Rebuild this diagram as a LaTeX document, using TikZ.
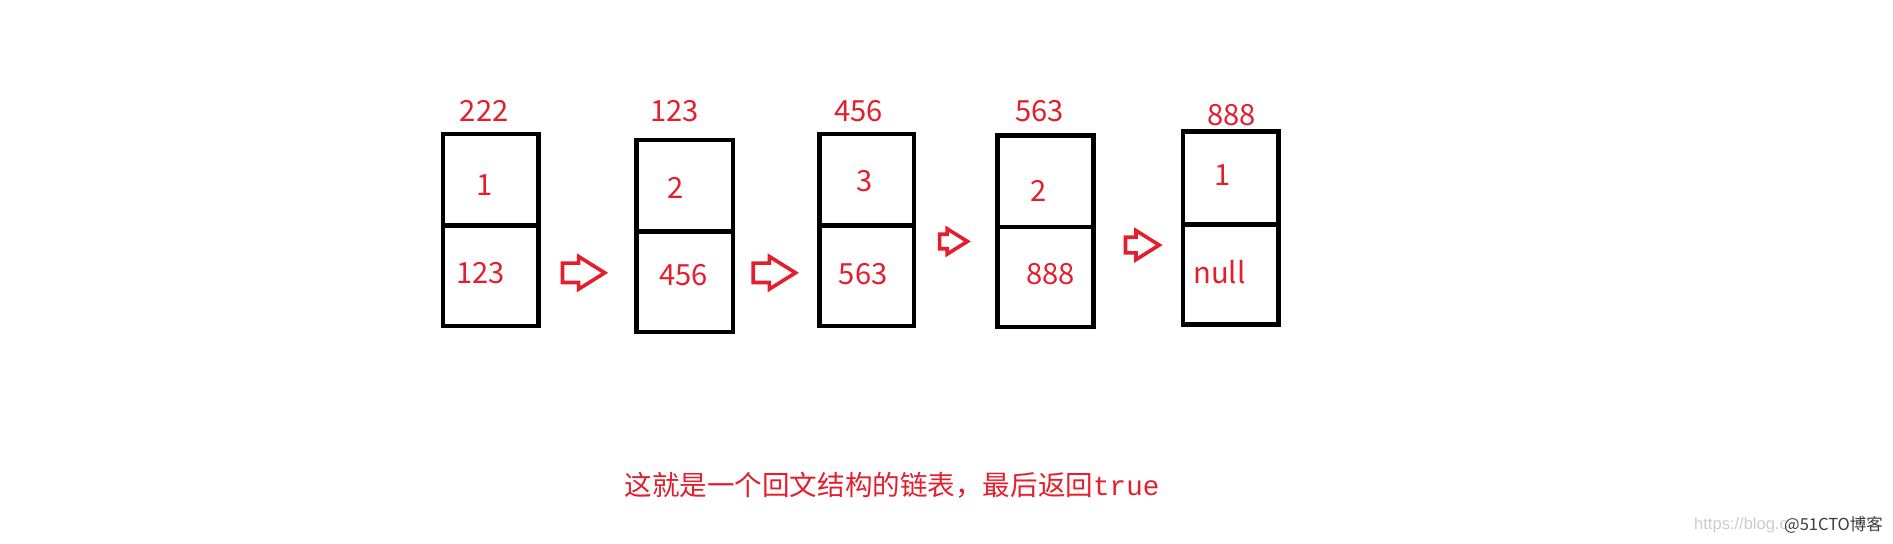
\documentclass[tikz,border=0pt]{standalone}
\usepackage{fontspec}
\setmainfont{Liberation Sans}
\newfontfamily\cjk{Noto Sans CJK SC}
\newfontfamily\monofam{Liberation Mono}
\newfontfamily\wmfont{Liberation Sans}
\usetikzlibrary{shapes.arrows}
\definecolor{lred}{RGB}{228,30,45}
\definecolor{wmgray}{RGB}{205,205,205}
\definecolor{wmdark}{RGB}{60,60,60}
\tikzset{
  cell/.style n args={2}{draw=black, line width=2.3pt, minimum width={#1*0.6pt}, minimum height={#2*0.6pt}, inner sep=0pt, outer sep=0pt, anchor=north west},
  val/.style={text=lred, font=\cjk\fontsize{14.5}{16}\selectfont, inner sep=0pt},
  blockarrow/.style n args={3}{single arrow, draw=lred, line width=1.8pt, minimum height={#1*0.6pt}, minimum width={#2*0.6pt}, inner sep={#3*0.6pt}, single arrow tip angle=64, single arrow head extend={(#2-2*#3)*0.3pt}},
}
\begin{document}
\begin{tikzpicture}[x=0.6pt,y=-0.6pt]
\useasboundingbox (0,0) rectangle (1568,450);
\fill[white] (0,0) rectangle (1568,450);
% box 1
\node[cell={79}{76}] (b1t) at (367,111) {};
\node[cell={79}{83}] (b1b) at (367,187) {};
\node[val] (h1) at (401,92) {222};
\node[val] (t1) at (401,153) {1};
\node[val] (n1) at (398,226) {123};
% box 2
\node[cell={80}{76}] (b2t) at (527,116) {};
\node[cell={80}{83}] (b2b) at (527,192) {};
\node[val] (h2) at (559,92) {123};
\node[val] (t2) at (560,156) {2};
\node[val] (n2) at (566,228) {456};
% box 3
\node[cell={78}{76}] (b3t) at (679,111) {};
\node[cell={78}{83}] (b3b) at (679,187) {};
\node[val] (h3) at (711,92) {456};
\node[val] (t3) at (716,150) {3};
\node[val] (n3) at (715,227) {563};
% box 4
\node[cell={80}{76}] (b4t) at (826,112) {};
\node[cell={80}{83}] (b4b) at (826,188) {};
\node[val] (h4) at (861,92) {563};
\node[val] (t4) at (860,158) {2};
\node[val] (n4) at (870,227) {888};
% box 5
\node[cell={79}{77}] (b5t) at (980,109) {};
\node[cell={79}{83}] (b5b) at (980,186) {};
\node[val] (h5) at (1020,95) {888};
\node[val] (t5) at (1013,145) {1};
\node[val] (n5) at (1010,225) {null};
% arrows
\node[blockarrow={35}{24}{6.5}] (a1) at (477,226) {};
\node[blockarrow={35}{24}{6.5}] (a2) at (635,226) {};
\node[blockarrow={23}{18}{4.5}] (a3) at (785,200) {};
\node[blockarrow={28}{21}{5}] (a4) at (941,203) {};
% caption
\node[text=lred, inner sep=0pt, anchor=west] (cap) at (517,402) {\cjk\fontsize{13.7}{16}\selectfont 这就是一个回文结构的链表，最后返回{\monofam true}};
% watermark
\node[text=wmgray, inner sep=0pt, anchor=west, font=\wmfont\fontsize{8.2}{9}\selectfont] (wm1) at (1403,435) {https://blog.c};
\node[text=wmdark, inner sep=0pt, anchor=east, font=\cjk\fontsize{8.2}{9}\selectfont] (wm2) at (1560,435) {@51CTO博客};
\end{tikzpicture}
\end{document}
